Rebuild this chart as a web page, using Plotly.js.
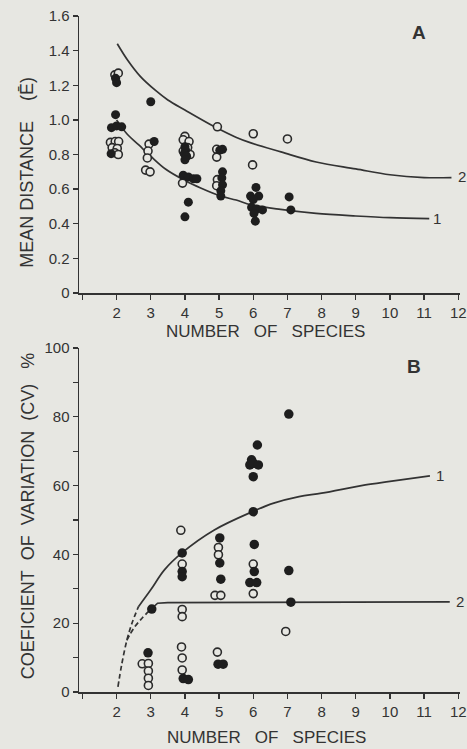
<!DOCTYPE html>
<html>
<head>
<meta charset="utf-8">
<script src="https://cdn.plot.ly/plotly-3.0.1.min.js"></script>
<style>
  html, body { margin: 0; padding: 0; background: #e7e7e2; }
  #chart { width: 467px; height: 749px; }
</style>
</head>
<body>
<div id="chart"></div>
<script>
// ---------- Panel A: mean distance ----------
const aFilledX = [2.0, 1.97, 1.97, 1.85, 2.0, 2.15, 1.84,
                  3.0, 3.1,
                  4.0, 4.02, 3.98, 4.05, 4.0, 3.95, 4.1, 4.25, 4.35, 4.1, 4.0,
                  5.1, 5.02, 5.1, 5.08, 5.1, 5.05, 5.05,
                  6.08, 5.92, 6.16, 6.0, 5.95, 6.1, 6.27, 6.02, 6.06,
                  7.05, 7.1];
const aFilledY = [1.215, 1.24, 1.03, 0.955, 0.965, 0.96, 0.805,
                  1.105, 0.875,
                  0.845, 0.825, 0.805, 0.79, 0.77, 0.68, 0.67, 0.66, 0.66, 0.525, 0.44,
                  0.83, 0.825, 0.70, 0.665, 0.625, 0.59, 0.56,
                  0.61, 0.56, 0.56, 0.54, 0.495, 0.485, 0.48, 0.46, 0.415,
                  0.555, 0.48];
const aOpenX = [1.95, 2.05, 1.82, 1.96, 2.06, 1.87, 2.02, 1.95, 2.05,
                2.95, 2.92, 2.9, 2.85, 2.98,
                4.0, 3.95, 4.12, 4.08, 3.95, 4.15, 3.93,
                4.95, 4.93, 4.93, 4.95, 4.93,
                6.0, 5.98,
                7.0];
const aOpenY = [1.26, 1.27, 0.87, 0.875, 0.875, 0.84, 0.835, 0.81, 0.80,
                0.86, 0.82, 0.78, 0.71, 0.70,
                0.905, 0.885, 0.875, 0.84, 0.82, 0.80, 0.635,
                0.96, 0.83, 0.785, 0.655, 0.62,
                0.92, 0.74,
                0.89];
const aCurve1X = [2.0, 2.3, 2.65, 3.0, 3.44, 4.0, 4.46, 5.05, 5.5, 5.93, 6.8, 7.84, 9.0, 10.0, 11.15];
const aCurve1Y = [1.0, 0.92, 0.855, 0.79, 0.715, 0.65, 0.607, 0.56, 0.537, 0.51, 0.483, 0.46, 0.445, 0.435, 0.43];
const aCurve2X = [2.02, 2.32, 2.7, 3.14, 3.5, 4.0, 4.87, 5.49, 5.93, 6.81, 7.84, 9.0, 10.0, 11.0, 11.8];
const aCurve2Y = [1.44, 1.346, 1.25, 1.17, 1.115, 1.057, 0.96, 0.90, 0.867, 0.815, 0.757, 0.717, 0.683, 0.667, 0.667];

// ---------- Panel B: coefficient of variation ----------
const bFilledX = [3.03, 2.92,
                  3.92, 3.92, 3.92, 3.95, 4.1,
                  5.02, 5.02, 5.05, 4.97, 5.12,
                  6.12, 5.95, 5.9, 6.0, 6.15, 6.0, 6.0, 6.03, 6.03, 5.9, 6.1,
                  7.04, 7.04, 7.1];
const bFilledY = [24.1, 11.4,
                  40.4, 35.0, 33.5, 3.9, 3.6,
                  44.8, 37.5, 32.8, 8.1, 8.1,
                  71.8, 67.5, 66.0, 66.5, 66.0, 62.6, 52.4, 42.9, 35.0, 31.8, 31.8,
                  80.8, 35.3, 26.1];
const bOpenX = [2.75, 2.93, 2.93, 2.93, 2.93,
                3.88, 3.92, 3.92, 3.92, 3.9, 3.92, 3.92,
                4.98, 4.98, 4.88, 5.05, 4.95,
                6.0, 6.0,
                6.95];
const bOpenY = [8.2, 8.3, 6.1, 4.0, 1.9,
                47.0, 37.2, 24.0, 21.9, 13.1, 9.9, 6.4,
                42.0, 39.9, 28.1, 28.1, 11.6,
                37.2, 28.6,
                17.6];
const bCurve1DashX = [2.04, 2.15, 2.3, 2.45, 2.64];
const bCurve1DashY = [1.5, 8.0, 15.0, 20.0, 24.8];
const bCurve1X = [2.64, 3.0, 3.4, 3.92, 4.86, 5.97, 6.6, 7.34, 8.0, 9.28, 10.0, 11.17];
const bCurve1Y = [24.8, 29.7, 35.5, 40.5, 47.1, 52.4, 54.9, 56.8, 57.8, 60.2, 61.2, 62.8];
const bCurve2DashX = [2.3, 2.5, 2.75, 3.0];
const bCurve2DashY = [15.0, 18.5, 21.5, 24.0];
const bCurve2X = [3.0, 3.2, 3.5, 6.0, 9.0, 11.75];
const bCurve2Y = [24.0, 25.8, 26.0, 26.0, 26.1, 26.2];

// ---------- ticks ----------
const xTickVals = [1, 2, 3, 4, 5, 6, 7, 8, 9, 10, 11, 12];
const xTickText = ['', '2', '3', '4', '5', '6', '7', '8', '9', '10', '11', '12'];
const aTickVals = [0, 0.2, 0.4, 0.6, 0.8, 1.0, 1.2, 1.4, 1.6];
const aTickText = ['0', '0.2', '0.4', '0.6', '0.8', '1.0', '1.2', '1.4', '1.6'];
const bTickVals = [0, 10, 20, 30, 40, 50, 60, 70, 80, 90, 100];
const bTickText = ['0', '', '20', '', '40', '', '60', '', '80', '', '100'];

const ink = '#333333';
const bg = '#e7e7e2';
const FONT = 'Liberation Sans, Arial, sans-serif';

function lineTrace(x, y, xa, ya, dash, shape) {
  return {x: x, y: y, xaxis: xa, yaxis: ya, mode: 'lines', type: 'scatter',
          line: {color: ink, width: 1.7, dash: dash || 'solid', shape: shape || 'spline'},
          hoverinfo: 'skip', showlegend: false};
}
function openTrace(x, y, xa, ya, size) {
  return {x: x, y: y, xaxis: xa, yaxis: ya, mode: 'markers', type: 'scatter',
          marker: {symbol: 'circle', size: size, color: bg, line: {color: '#2a2a2a', width: 1.6}},
          showlegend: false};
}
function filledTrace(x, y, xa, ya, size) {
  return {x: x, y: y, xaxis: xa, yaxis: ya, mode: 'markers', type: 'scatter',
          marker: {symbol: 'circle', size: size, color: '#1e1e1e', line: {width: 0}},
          showlegend: false};
}

const data = [
  lineTrace(aCurve1X, aCurve1Y, 'x', 'y'),
  lineTrace(aCurve2X, aCurve2Y, 'x', 'y'),
  openTrace(aOpenX, aOpenY, 'x', 'y', 8),
  filledTrace(aFilledX, aFilledY, 'x', 'y', 9),
  lineTrace(bCurve1DashX, bCurve1DashY, 'x2', 'y2', '5px,3px'),
  lineTrace(bCurve1X, bCurve1Y, 'x2', 'y2'),
  lineTrace(bCurve2DashX, bCurve2DashY, 'x2', 'y2', '5px,3px'),
  lineTrace(bCurve2X, bCurve2Y, 'x2', 'y2', 'solid', 'linear'),
  openTrace(bOpenX, bOpenY, 'x2', 'y2', 8),
  filledTrace(bFilledX, bFilledY, 'x2', 'y2', 9.5)
];

const axisCommon = {
  showgrid: false, zeroline: false, showline: true, linecolor: ink, linewidth: 1.5,
  ticks: 'outside', ticklen: 5, tickwidth: 1.3, tickcolor: ink,
  tickfont: {family: FONT, size: 15, color: ink}, fixedrange: true
};

function ann(text, xref, yref, x, y, size, angle) {
  return {text: text, xref: xref, yref: yref, x: x, y: y, xanchor: 'center', yanchor: 'middle',
          textangle: angle || 0, showarrow: false, font: {family: FONT, size: size, color: ink}};
}

const layout = {
  width: 467, height: 749,
  margin: {l: 79, r: 7, t: 16, b: 57},
  paper_bgcolor: bg, plot_bgcolor: bg,
  showlegend: false,
  xaxis: Object.assign({}, axisCommon, {domain: [0, 1], anchor: 'y', range: [0.9, 12.05],
          tickmode: 'array', tickvals: xTickVals, ticktext: xTickText}),
  yaxis: Object.assign({}, axisCommon, {domain: [0.5902, 1], anchor: 'x', range: [0, 1.6],
          tickmode: 'array', tickvals: aTickVals, ticktext: aTickText}),
  xaxis2: Object.assign({}, axisCommon, {domain: [0, 1], anchor: 'y2', range: [0.9, 12.05],
          tickmode: 'array', tickvals: xTickVals, ticktext: xTickText}),
  yaxis2: Object.assign({}, axisCommon, {domain: [0, 0.5089], anchor: 'x2', range: [0, 100],
          tickmode: 'array', tickvals: bTickVals, ticktext: bTickText}),
  annotations: [
    ann('MEAN DISTANCE\u00A0\u00A0\u00A0 (Ē)', 'paper', 'paper', -0.135, 0.769, 18, -90),
    ann('COEFICIENT\u00A0 OF\u00A0 VARIATION\u00A0 (CV)\u00A0\u00A0 %', 'paper', 'paper', -0.134, 0.26, 18, -90),
    ann('NUMBER\u00A0\u00A0 OF\u00A0\u00A0 SPECIES', 'paper', 'paper', 0.4895, 0.534, 17),
    ann('NUMBER\u00A0\u00A0 OF\u00A0\u00A0 SPECIES', 'paper', 'paper', 0.491, -0.0666, 17),
    ann('<b>A</b>', 'paper', 'paper', 0.892, 0.975, 19),
    ann('<b>B</b>', 'paper', 'paper', 0.879, 0.481, 19),
    ann('2', 'paper', 'paper', 1.005, 0.762, 15),
    ann('1', 'x', 'y', 11.38, 0.43, 15),
    ann('1', 'x2', 'y2', 11.46, 62.8, 15),
    ann('2', 'x2', 'y2', 12.05, 26.2, 15)
  ]
};

Plotly.newPlot('chart', data, layout, {staticPlot: true, displayModeBar: false});
</script>
</body>
</html>
